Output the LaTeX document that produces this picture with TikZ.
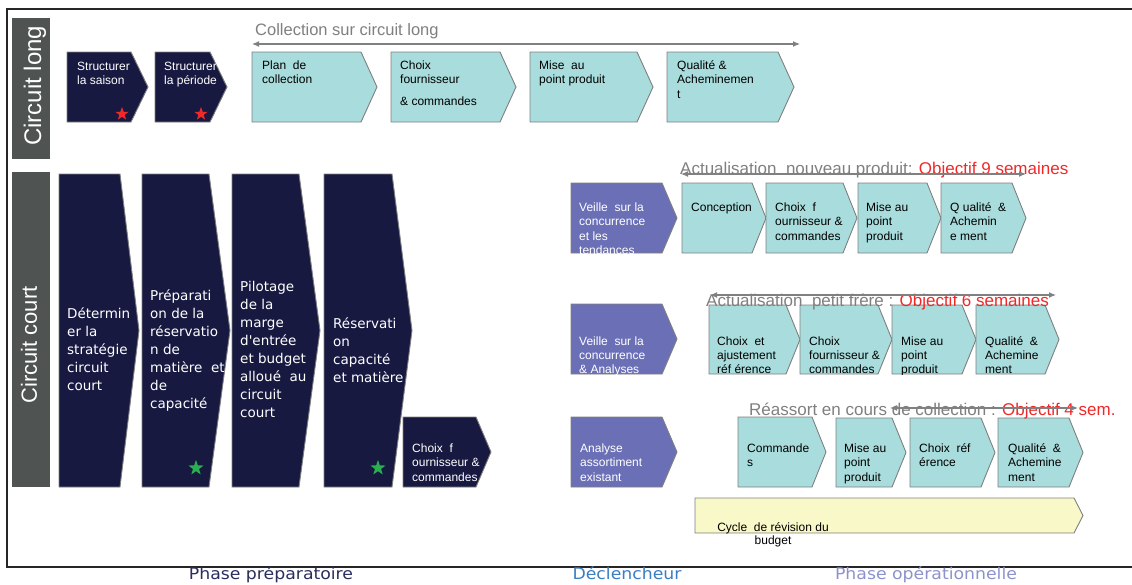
\documentclass[tikz,border=0pt]{standalone}
\usepackage{fontspec}
\setmainfont{Liberation Sans}
\newfontfamily\dejavu{DejaVu Sans}
\usetikzlibrary{shapes.geometric,arrows.meta}
\definecolor{navyc}{HTML}{171941}
\definecolor{tealc}{HTML}{A9DCDC}
\definecolor{purpc}{HTML}{6B70B6}
\definecolor{yelc}{HTML}{F8F8C8}
\definecolor{grayc}{HTML}{4F5352}
\definecolor{bordc}{HTML}{7F7F7F}
\definecolor{arrc}{HTML}{808080}
\definecolor{titlec}{HTML}{7F7F7F}
\definecolor{redc}{HTML}{F02828}
\definecolor{greenc}{HTML}{2BAE4F}
\definecolor{phaseA}{HTML}{2A2E5E}
\definecolor{phaseB}{HTML}{3A7EC2}
\definecolor{phaseC}{HTML}{8E92CC}
\tikzset{
  chev/.style n args={5}{insert path={(#1,#2) -- ({#3-#5},#2) -- (#3,{(#2+#4)/2}) -- ({#3-#5},#4) -- (#1,#4) -- cycle}},
  navyb/.style={fill=navyc, draw=bordc, line width=0.9pt},
  tealb/.style={fill=tealc, draw=bordc, line width=0.9pt},
  purpb/.style={fill=purpc, draw=bordc, line width=0.9pt},
  yelb/.style={fill=yelc, draw=bordc, line width=0.9pt},
  tx/.style={anchor=north west, inner sep=0pt, align=left},
  sm/.style={tx, font=\fontsize{12}{14.5}\selectfont},
  smw/.style={sm, text=white},
  bg/.style={tx, font=\dejavu\fontsize{13.5}{18}\selectfont, text=white},
  ttl/.style={anchor=base west, inner sep=0pt, font=\fontsize{16.5}{20}\selectfont, text=titlec},
  harrow/.style={draw=arrc, line width=1.2pt, {Latex[length=7pt,width=6pt]}-{Latex[length=7pt,width=6pt]}},
  phase/.style={anchor=base, inner sep=0pt, font=\dejavu\fontsize{16}{18}\selectfont, xscale=1.08},
  starfive/.style={star, star points=5, star point ratio=2.5, inner sep=0pt, draw=none},
}
\newcommand\fstrut{\rule{0pt}{0.8em}}
\newcommand\cbox[7]{%
  \draw[#1, chev={#2}{#3}{#4}{#5}{#6}];
  \begin{scope}\clip[chev={#2}{#3}{#4}{#5}{#6}];#7\end{scope}}
\begin{document}
\begin{tikzpicture}[x=1pt,y=-1pt]
\useasboundingbox (0,0) rectangle (1132,584);
% frame
\draw[line width=1.8pt, black!85] (1145,9) -- (7,9) -- (7,567) -- (1145,567);
% side labels
\fill[grayc] (12,18) rectangle (50,159);
\begin{scope}\clip (12,18) rectangle (50,159);
\node[rotate=90, text=white, font=\fontsize{24}{26}\selectfont, inner sep=0pt, anchor=west] (cl) at (35,146) {Circuit long};
\end{scope}
\fill[grayc] (12,172) rectangle (50,487);
\node[rotate=90, text=white, font=\fontsize{22}{24}\selectfont, inner sep=0pt] (cc) at (29,345) {Circuit court};

% ---------- top row (circuit long)
\cbox{navyb}{67}{52}{148}{122}{17}{\node[smw] (s1) at (77,60.5) {\fstrut Structurer\\la saison};}
\cbox{navyb}{155}{52}{227}{122}{17}{\node[smw] (s2) at (164,60.5) {\fstrut Structurer\\la période};}
\node[starfive, fill=redc, minimum size=14pt] (r1) at (122,114) {};
\node[starfive, fill=redc, minimum size=14pt] (r2) at (201,114) {};
\cbox{tealb}{252}{52}{377}{122}{16}{\node[sm] (p1) at (262,59.5) {\fstrut Plan\ \ de\\collection};}
\cbox{tealb}{391}{52}{516}{122}{16}{\node[sm] (p2) at (400,59.5) {\fstrut Choix\\fournisseur\\[7pt]\& commandes};}
\cbox{tealb}{530}{52}{653}{122}{16}{\node[sm] (p3) at (539,59.5) {\fstrut Mise\ \ au\\point produit};}
\cbox{tealb}{667}{52}{794}{122}{16}{\node[sm] (p4) at (677,59.5) {\fstrut Qualité \&\\Acheminemen\\t};}
\node[ttl] (tl) at (255,35) {Collection sur circuit long};
\coordinate (al) at (252,44);
\coordinate (ar) at (800,44);
\draw[harrow] (al) -- (ar);

% ---------- circuit court preparatory chevrons
\cbox{navyb}{59}{174}{139}{487}{19}{\node[bg] (b1) at (67,307.8) {\fstrut Détermin\\er la\\stratégie\\circuit\\court};}
\cbox{navyb}{142}{174}{230}{487}{21}{\node[bg] (b2) at (150,289.8) {\fstrut Préparati\\on de la\\réservatio\\n de\\matière\ \ et\\de\\capacité};}
\cbox{navyb}{232}{174}{320}{487}{21}{\node[bg] (b3) at (240,280.8) {\fstrut Pilotage\\de la\\marge\\d'entrée\\et budget\\alloué\ \ au\\circuit\\court};}
\cbox{navyb}{324}{174}{412}{487}{20}{\node[bg] (b4) at (333,317.8) {\fstrut Réservati\\on\\capacité\\et matière};}
\node[starfive, fill=greenc, minimum size=16pt] (g1) at (196,468) {};
\node[starfive, fill=greenc, minimum size=16pt] (g2) at (378,468) {};
\cbox{navyb}{403}{417}{491}{487}{15}{\node[smw] (b5) at (412,442.5) {\fstrut Choix\ \ f\\ournisseur \&\\commandes};}

% ---------- row 1 : nouveau produit
\cbox{purpb}{571}{183}{677}{253}{15}{\node[smw] (v1) at (579,201.5) {\fstrut Veille\ \ sur la\\concurrence\\et les\\tendances};}
\cbox{tealb}{682}{183}{766}{253}{14}{\node[sm] (a1) at (691,201.5) {\fstrut Conception};}
\cbox{tealb}{766}{183}{857}{253}{14}{\node[sm] (a2) at (775,201.5) {\fstrut Choix\ \ f\\ournisseur \&\\commandes};}
\cbox{tealb}{858}{183}{941}{253}{14}{\node[sm] (a3) at (866,201.5) {\fstrut Mise au\\point\\produit};}
\cbox{tealb}{941}{183}{1026}{253}{14}{\node[sm] (a4) at (950,201.5) {\fstrut Q ualité\ \ \&\\Achemin\\e ment};}
\node[ttl, font=\fontsize{17}{20}\selectfont] (t1) at (680,174) {Actualisation\ \ nouveau produit: \textcolor{redc}{Objectif 9 semaines}};
\coordinate (b1l) at (681,174);
\coordinate (b1r) at (1026,174);
\draw[harrow] (b1l) -- (b1r);

% ---------- row 2 : petit frere
\cbox{purpb}{571}{304}{677}{374}{15}{\node[smw, font=\fontsize{12}{14}\selectfont] (v2) at (579,335.5) {\fstrut Veille\ \ sur la\\concurrence\\\& Analyses};}
\cbox{tealb}{709}{305}{800}{374}{14}{\node[sm, font=\fontsize{12}{14}\selectfont] (c1) at (717,335.5) {\fstrut Choix\ \ et\\ajustement\\réf érence};}
\cbox{tealb}{800}{305}{892}{374}{14}{\node[sm, font=\fontsize{12}{14}\selectfont] (c2) at (809,335.5) {\fstrut Choix\\fournisseur \&\\commandes};}
\cbox{tealb}{892}{305}{976}{374}{14}{\node[sm, font=\fontsize{12}{14}\selectfont] (c3) at (901,335.5) {\fstrut Mise au\\point\\produit};}
\cbox{tealb}{976}{305}{1059}{374}{14}{\node[sm, font=\fontsize{12}{14}\selectfont] (c4) at (985,335.5) {\fstrut Qualité\ \ \&\\Achemine\\ment};}
\node[ttl, font=\fontsize{17}{20}\selectfont] (t2) at (706,306) {Actualisation\ \ petit frère : \textcolor{redc}{Objectif 6 semaines}};
\coordinate (b2l) at (710,295);
\coordinate (b2r) at (1056,295);
\draw[harrow] (b2l) -- (b2r);

% ---------- row 3 : reassort
\cbox{purpb}{571}{417}{677}{487}{15}{\node[smw] (v3) at (580,442.5) {\fstrut Analyse\\assortiment\\existant};}
\cbox{tealb}{738}{417}{826}{487}{14}{\node[sm] (d1) at (747,442.5) {\fstrut Commande\\s};}
\cbox{tealb}{836}{418}{906}{487}{14}{\node[sm] (d2) at (844,442.5) {\fstrut Mise au\\point\\produit};}
\cbox{tealb}{910}{418}{995}{487}{14}{\node[sm] (d3) at (919,442.5) {\fstrut Choix\ \ réf\\érence};}
\cbox{tealb}{998}{418}{1083}{487}{14}{\node[sm] (d4) at (1008,442.5) {\fstrut Qualité\ \ \&\\Achemine\\ment};}
\node[ttl, font=\fontsize{17}{20}\selectfont] (t3) at (749,415) {Réassort en cours de collection : \textcolor{redc}{Objectif 4 sem.}};
\coordinate (b3l) at (890,408);
\coordinate (b3r) at (1078,408);
\draw[harrow] (b3l) -- (b3r);

% ---------- budget bar
\draw[yelb, chev={695}{498}{1083}{533}{9}];
\node[anchor=north, inner sep=0pt, align=center, font=\fontsize{12}{13}\selectfont] (cy) at (773,521.5) {\fstrut Cycle\ \ de révision du\\budget};

% ---------- phases
\node[phase, text=phaseA] (ph1) at (271,579.5) {Phase préparatoire};
\node[phase, text=phaseB] (ph2) at (627,579.5) {Déclencheur};
\node[phase, text=phaseC] (ph3) at (926,579.5) {Phase opérationnelle};
\end{tikzpicture}
\end{document}
